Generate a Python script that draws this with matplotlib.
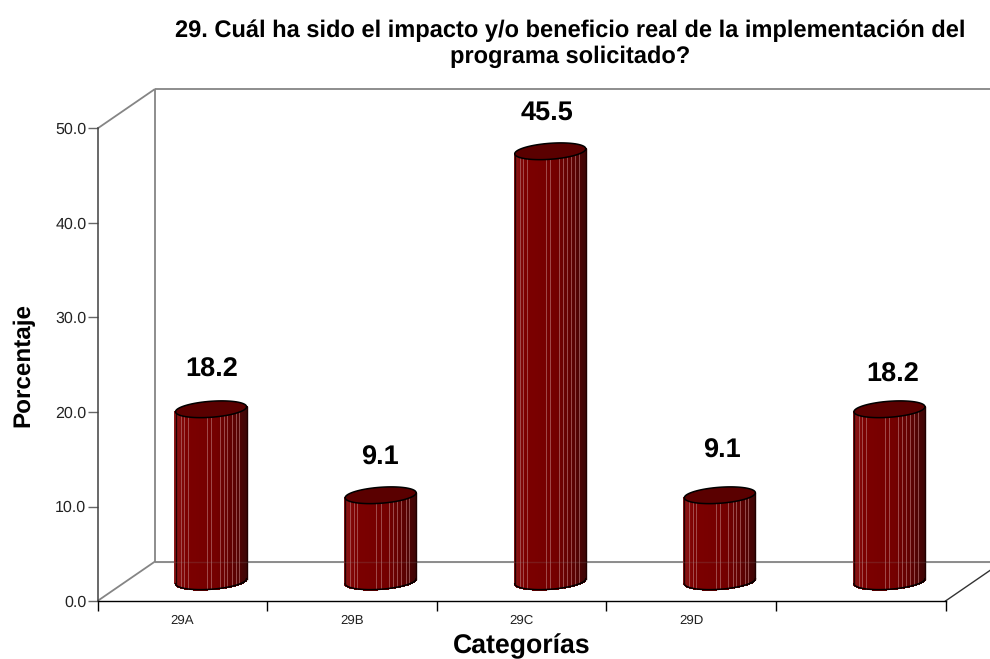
"""3D-looking cylinder bar chart, drawn on a flat axes with a sheared depth."""
import matplotlib
matplotlib.use("Agg")
import matplotlib.pyplot as plt
import numpy as np
from matplotlib.colors import LinearSegmentedColormap

categories = ["29A", "29B", "29C", "29D", ""]
values = [18.2, 9.1, 45.5, 9.1, 18.2]
y_ticks = [0, 10, 20, 30, 40, 50]
title = "29. Cuál ha sido el impacto y/o beneficio real de la implementación del\nprograma solicitado?"
x_label = "Categorías"
y_label = "Porcentaje"

# label offsets in points, the original places them a bit unevenly
label_dx = [0.5, -0.5, -2, 1.5, 2]
label_dy = [28.5, 27, 27.5, 32, 25]

W, H = 990, 659
AX_L, AX_R, AX_TOP, AX_BOT = 97.5, 945.5, 128.5, 601
PX_X = (AX_R - AX_L) / 5
PX_Y = (AX_BOT - AX_TOP) / 50
DEPTH_X = 57.5 / PX_X
DEPTH_Y = 39.5 / PX_Y

GREY = "#858585"
bar_cmap = LinearSegmentedColormap.from_list(
    "bar", [(0, "#8e1a1a"), (0.15, "#7c0000"), (0.6, "#740000"), (0.85, "#5c0202"), (1, "#400606")]
)
# light streaks across the cylinder, as fractions of its width
stripe_fracs = [0.07, 0.12, 0.17, 0.44, 0.5, 0.62, 0.68, 0.73, 0.79, 0.85, 0.9]

plt.rcParams["font.family"] = ["Liberation Sans", "DejaVu Sans"]
plt.rcParams["text.hinting"] = "no_hinting"

fig = plt.figure(figsize=(W / 100, H / 100), dpi=100)
ax = fig.add_axes([AX_L / W, 1 - AX_BOT / H, (AX_R - AX_L) / W, (AX_BOT - AX_TOP) / H])
ax.set_xlim(0, 5)
ax.set_ylim(0, 50)
ax.patch.set_visible(False)

for side in ["top", "right"]:
    ax.spines[side].set_visible(False)
ax.spines["left"].set_color("#404040")
ax.spines["left"].set_linewidth(1.1)
ax.spines["bottom"].set_color("black")
ax.spines["bottom"].set_linewidth(1.0)

ax.set_yticks(y_ticks)
ax.set_yticklabels([f"{v:.1f}" for v in y_ticks], fontsize=11.5, color="#222222")
ax.tick_params(axis="y", length=7.5, width=1, color="#666666", pad=0.5)
ax.set_xticks(np.arange(6))
ax.set_xticklabels([])
ax.tick_params(axis="x", length=7, width=1, color="black")
ax.set_xticks(np.arange(5) + 0.5, minor=True)
ax.set_xticklabels(categories, minor=True, fontsize=9.5, color="#222222")
ax.tick_params(axis="x", which="minor", length=0, pad=9.5)

# walls and floor
far_x = 5 + DEPTH_X
far_y = 50 + DEPTH_Y
wall = dict(color=GREY, lw=1.3, clip_on=False, zorder=1, solid_capstyle="butt")
ax.plot([0, DEPTH_X], [50, far_y], **wall)
ax.plot([DEPTH_X, far_x], [far_y, far_y], **wall)
ax.plot([DEPTH_X, DEPTH_X], [DEPTH_Y, far_y], **wall)
ax.plot([0, DEPTH_X], [0, DEPTH_Y], **wall)
ax.plot([DEPTH_X, far_x], [DEPTH_Y, DEPTH_Y], **wall)
ax.plot([5, far_x], [0, DEPTH_Y], color="#333333", lw=1.0, clip_on=False, zorder=1)

# cylinders
RX = 35.5 / PX_X
RY = 8.0 / PX_Y
TILT = 2.5 / PX_Y
BASE = DEPTH_Y / 2


def rim(cx, cy, t):
    return cx + RX * np.cos(t), cy + RY * np.sin(t) + TILT * np.cos(t)


for i, (name, val) in enumerate(zip(categories, values)):
    cx = i + 0.5 + DEPTH_X / 2
    top = BASE + val

    # front half, from left edge round to right edge
    t = np.linspace(np.pi, 2 * np.pi, 61)
    xf, yf = rim(cx, BASE, t)
    frac = (xf - xf[0]) / (xf[-1] - xf[0])
    for k in range(len(t) - 1):
        qx = [xf[k], xf[k + 1], xf[k + 1], xf[k]]
        qy = [yf[k], yf[k + 1], yf[k + 1] + val, yf[k] + val]
        c = bar_cmap((frac[k] + frac[k + 1]) / 2)
        ax.fill(qx, qy, color=c, lw=0.8, antialiased=False, clip_on=False, zorder=3)

    for f in stripe_fracs:
        sx = xf[0] + f * (xf[-1] - xf[0])
        sy = np.interp(sx, xf, yf)
        ax.plot([sx, sx], [sy, sy + val], color="#b87676", lw=0.6, alpha=0.75,
                clip_on=False, zorder=4)

    # outline and lid
    ax.plot(xf, yf, color="black", lw=1.1, clip_on=False, zorder=5)
    ax.plot([xf[0], xf[0]], [yf[0], yf[0] + val], color="#200000", lw=1.0, clip_on=False, zorder=5)
    ax.plot([xf[-1], xf[-1]], [yf[-1], yf[-1] + val], color="#200000", lw=1.0, clip_on=False, zorder=5)
    tt = np.linspace(0, 2 * np.pi, 121)
    xt, yt = rim(cx, top, tt)
    ax.fill(xt, yt, facecolor="#5a0000", edgecolor="black", lw=1.1, clip_on=False, zorder=6)

    ax.annotate(f"{val:.1f}", (cx, top), xytext=(label_dx[i], label_dy[i]), textcoords="offset points",
                ha="center", va="center", fontsize=19.5, fontweight="bold", color="black",
                annotation_clip=False, zorder=7)

# the floor line shows faintly through the bars
ax.plot([DEPTH_X, far_x], [DEPTH_Y, DEPTH_Y], color=GREY, lw=1.0, alpha=0.2, clip_on=False, zorder=5)

fig.text(570 / W, 1 - 43.5 / H, title, ha="center", va="center", fontsize=17, fontweight="bold",
         linespacing=1.22, color="black")
fig.text(521.5 / W, 1 - 646 / H, x_label, ha="center", va="center", fontsize=19.2, fontweight="bold")
fig.text(23 / W, 1 - 365 / H, y_label, rotation=90, ha="center", va="center", fontsize=17.5, fontweight="bold")

fig.savefig("out.png", dpi=100)
